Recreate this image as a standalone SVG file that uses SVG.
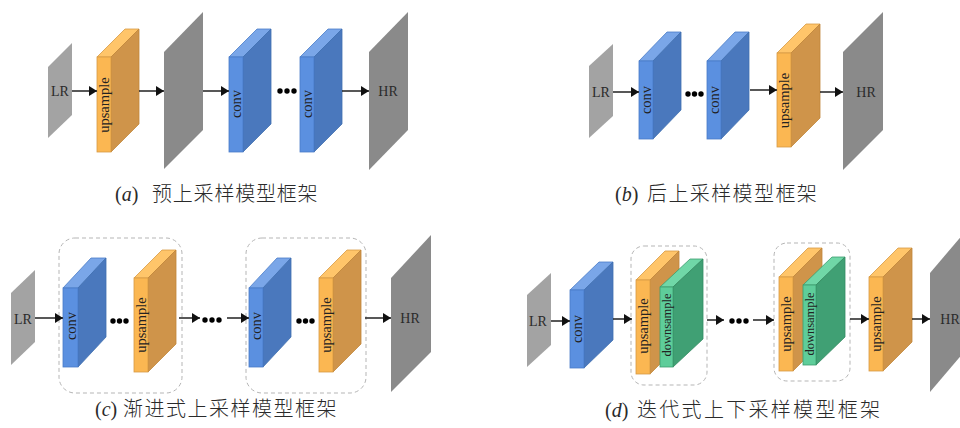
<svg xmlns="http://www.w3.org/2000/svg" width="960" height="428" viewBox="0 0 960 428">
  <defs>
    <marker id="arrow" markerUnits="userSpaceOnUse" viewBox="0 0 8 10" refX="8" refY="5" markerWidth="8" markerHeight="10" orient="auto">
      <path d="M0,0 L8,5 L0,10 z" fill="#111"/>
    </marker>
  </defs>
  <style>
    .lr { fill: #a3a3a3; }
    .hr { fill: #8a8a8a; }
    .o-front { fill: #fbb752; stroke: #d79a45; stroke-width: 0.8; }
    .o-top { fill: #ffc56a; stroke: #d79a45; stroke-width: 0.8; }
    .o-side { fill: #cf944a; stroke: #c0863a; stroke-width: 0.8; }
    .b-front { fill: #5b90e0; stroke: #4a7cc8; stroke-width: 0.8; }
    .b-top { fill: #7aa6e8; stroke: #4a7cc8; stroke-width: 0.8; }
    .b-side { fill: #4a78bd; stroke: #4070b0; stroke-width: 0.8; }
    .g-front { fill: #5ecd9a; stroke: #3c9c6e; stroke-width: 0.8; }
    .g-top { fill: #70d7a7; stroke: #3c9c6e; stroke-width: 0.8; }
    .g-side { fill: #40a074; stroke: #348c62; stroke-width: 0.8; }
    .lbl { font-family: "Liberation Serif", "Times New Roman", serif; font-size: 14.5px; fill: #222; text-anchor: middle; dominant-baseline: central; }
    .lbl-s { font-size: 12.5px; }
    .io { font-family: "Liberation Serif", "Times New Roman", serif; font-size: 14px; fill: #2a2a2a; text-anchor: middle; dominant-baseline: central; }
    .conn { stroke: #111; stroke-width: 1.4; fill: none; marker-end: url(#arrow); }
    .dot { fill: #000; }
    .group { fill: none; stroke: #b5b5b5; stroke-width: 1; stroke-dasharray: 4 3; }
    .cap-l { font-family: "Liberation Serif", "Times New Roman", serif; font-size: 20px; fill: #2a2a2a; }
    .cap-c { font-family: "Noto Sans CJK SC", "Noto Sans", sans-serif; font-size: 20px; font-weight: 300; fill: #2a2a2a; }
  </style>

  <!-- ===== (a) pre-upsampling ===== -->
  <g id="a-lr"><polygon class="lr" points="48,67 72,43 72,115 48,138"/><text class="io" x="60" y="91">LR</text></g>
  <g id="a-upsample">
    <polygon class="o-top" points="97,57 111,57 139,29 125,29"/>
    <polygon class="o-side" points="111,57 139,29 139,124 111,152"/>
    <rect class="o-front" x="97" y="57" width="14" height="95"/>
    <text class="lbl" transform="translate(104,105) rotate(-90)">upsample</text>
  </g>
  <g id="a-mid"><polygon class="hr" points="164,52 203,12 203,130 164,169"/></g>
  <g id="a-conv1">
    <polygon class="b-top" points="229,57 243,57 271,29 257,29"/>
    <polygon class="b-side" points="243,57 271,29 271,124 243,152"/>
    <rect class="b-front" x="229" y="57" width="14" height="95"/>
    <text class="lbl" transform="translate(236,104) rotate(-90)">conv</text>
  </g>
  <g id="a-conv2">
    <polygon class="b-top" points="300,57 314,57 342,29 328,29"/>
    <polygon class="b-side" points="314,57 342,29 342,124 314,152"/>
    <rect class="b-front" x="300" y="57" width="14" height="95"/>
    <text class="lbl" transform="translate(307,104) rotate(-90)">conv</text>
  </g>
  <g id="a-hr"><polygon class="hr" points="369,52 408,12 408,130 369,170"/><text class="io" x="388" y="91">HR</text></g>
  <text id="a-caption" y="201"><tspan class="cap-l" x="115">(<tspan font-style="italic">a</tspan>)</tspan><tspan class="cap-c" x="152" letter-spacing="0.8">预上采样模型框架</tspan></text>

  <!-- ===== (b) post-upsampling ===== -->
  <g id="b-lr"><polygon class="lr" points="589,66 613,44 613,116 589,138"/><text class="io" x="601" y="92">LR</text></g>
  <g id="b-conv1">
    <polygon class="b-top" points="639,61 653,61 681,32 667,32"/>
    <polygon class="b-side" points="653,61 681,32 681,110 653,139"/>
    <rect class="b-front" x="639" y="61" width="14" height="78"/>
    <text class="lbl" transform="translate(646,100) rotate(-90)">conv</text>
  </g>
  <g id="b-conv2">
    <polygon class="b-top" points="707,61 721,61 749,32 735,32"/>
    <polygon class="b-side" points="721,61 749,32 749,110 721,139"/>
    <rect class="b-front" x="707" y="61" width="14" height="78"/>
    <text class="lbl" transform="translate(714,100) rotate(-90)">conv</text>
  </g>
  <g id="b-upsample">
    <polygon class="o-top" points="777,53 791,53 820,24 806,24"/>
    <polygon class="o-side" points="791,53 820,24 820,118 791,147"/>
    <rect class="o-front" x="777" y="53" width="14" height="94"/>
    <text class="lbl" transform="translate(784,100.5) rotate(-90)">upsample</text>
  </g>
  <g id="b-hr"><polygon class="hr" points="843,52 883,12 883,130 843,170"/><text class="io" x="866" y="92">HR</text></g>
  <text id="b-caption" y="201"><tspan class="cap-l" x="615">(<tspan font-style="italic">b</tspan>)</tspan><tspan class="cap-c" x="647" letter-spacing="1.4">后上采样模型框架</tspan></text>

  <!-- ===== (c) progressive upsampling ===== -->
  <g id="c-lr"><polygon class="lr" points="11,293 35,270 35,342 11,365"/><text class="io" x="23" y="319">LR</text></g>
  <g id="c-stage1">
    <rect class="group" x="59" y="238" width="123" height="155" rx="16"/>
  </g>
  <g id="c-conv1">
    <polygon class="b-top" points="63,288 78,288 106,258 91,258"/>
    <polygon class="b-side" points="78,288 106,258 106,337 78,367"/>
    <rect class="b-front" x="63" y="288" width="15" height="79"/>
    <text class="lbl" transform="translate(70.5,326) rotate(-90)">conv</text>
  </g>
  <g id="c-upsample1">
    <polygon class="o-top" points="134,278 148,278 176,250 162,250"/>
    <polygon class="o-side" points="148,278 176,250 176,344 148,372"/>
    <rect class="o-front" x="134" y="278" width="14" height="94"/>
    <text class="lbl" transform="translate(141,325) rotate(-90)">upsample</text>
  </g>
  <g id="c-stage2">
    <rect class="group" x="246" y="238" width="120" height="155" rx="16"/>
  </g>
  <g id="c-conv2">
    <polygon class="b-top" points="249,288 263,288 291,258 277,258"/>
    <polygon class="b-side" points="263,288 291,258 291,337 263,367"/>
    <rect class="b-front" x="249" y="288" width="14" height="79"/>
    <text class="lbl" transform="translate(256,326) rotate(-90)">conv</text>
  </g>
  <g id="c-upsample2">
    <polygon class="o-top" points="319,278 333,278 361,250 347,250"/>
    <polygon class="o-side" points="333,278 361,250 361,344 333,372"/>
    <rect class="o-front" x="319" y="278" width="14" height="94"/>
    <text class="lbl" transform="translate(326,325) rotate(-90)">upsample</text>
  </g>
  <g id="c-hr"><polygon class="hr" points="391,278 431,235 431,352 391,392"/><text class="io" x="410" y="318">HR</text></g>
  <text id="c-caption" y="416"><tspan class="cap-l" x="95">(<tspan font-style="italic">c</tspan>)</tspan><tspan class="cap-c" x="123" letter-spacing="1.5">渐进式上采样模型框架</tspan></text>

  <!-- ===== (d) iterative up-and-down sampling ===== -->
  <g id="d-lr"><polygon class="lr" points="527,295 551,273 551,345 527,367"/><text class="io" x="538" y="321">LR</text></g>
  <g id="d-conv">
    <polygon class="b-top" points="570,290 584,290 613,262 599,262"/>
    <polygon class="b-side" points="584,290 613,262 613,340 584,368"/>
    <rect class="b-front" x="570" y="290" width="14" height="78"/>
    <text class="lbl" transform="translate(577,329) rotate(-90)">conv</text>
  </g>
  <g id="d-stage1">
    <rect class="group" x="631" y="246" width="76" height="139" rx="13"/>
  </g>
  <g id="d-upsample1">
    <polygon class="o-top" points="636,280 650,280 679,251 665,251"/>
    <polygon class="o-side" points="650,280 679,251 679,345 650,374"/>
    <rect class="o-front" x="636" y="280" width="14" height="94"/>
    <text class="lbl" transform="translate(643,326) rotate(-90)">upsample</text>
  </g>
  <g id="d-downsample1">
    <polygon class="g-top" points="660,287 673,287 703,259 690,259"/>
    <polygon class="g-side" points="673,287 703,259 703,339 673,367"/>
    <rect class="g-front" x="660" y="287" width="13" height="80"/>
    <text class="lbl lbl-s" transform="translate(666.5,325) rotate(-90)">downsample</text>
  </g>
  <g id="d-stage2">
    <rect class="group" x="774" y="243" width="76" height="138" rx="13"/>
  </g>
  <g id="d-upsample2">
    <polygon class="o-top" points="779,277 793,277 822,248 808,248"/>
    <polygon class="o-side" points="793,277 822,248 822,342 793,371"/>
    <rect class="o-front" x="779" y="277" width="14" height="94"/>
    <text class="lbl" transform="translate(786,324) rotate(-90)">upsample</text>
  </g>
  <g id="d-downsample2">
    <polygon class="g-top" points="803,285 816,285 845,257 832,257"/>
    <polygon class="g-side" points="816,285 845,257 845,337 816,365"/>
    <rect class="g-front" x="803" y="285" width="13" height="80"/>
    <text class="lbl lbl-s" transform="translate(809.5,324) rotate(-90)">downsample</text>
  </g>
  <g id="d-upsample3">
    <polygon class="o-top" points="869,277 883,277 912,248 898,248"/>
    <polygon class="o-side" points="883,277 912,248 912,342 883,371"/>
    <rect class="o-front" x="869" y="277" width="14" height="94"/>
    <text class="lbl" transform="translate(876,324) rotate(-90)">upsample</text>
  </g>
  <g id="d-hr"><polygon class="hr" points="930,273 970,226 970,345 930,392"/><text class="io" x="950" y="319">HR</text></g>
  <text id="d-caption" y="417"><tspan class="cap-l" x="605">(<tspan font-style="italic">d</tspan>)</tspan><tspan class="cap-c" x="637" letter-spacing="2.3">迭代式上下采样模型框架</tspan></text>

  <!-- ===== connectors and ellipses ===== -->
  <g id="connectors">
    <line class="conn" x1="72" y1="91" x2="97" y2="91"/>
    <line class="conn" x1="139" y1="91" x2="164" y2="91"/>
    <line class="conn" x1="203" y1="91" x2="229" y2="91"/>
    <line class="conn" x1="342" y1="91" x2="369" y2="91"/>

    <line class="conn" x1="613" y1="92" x2="639" y2="92"/>
    <line class="conn" x1="750" y1="90" x2="777" y2="90"/>
    <line class="conn" x1="820" y1="92" x2="843" y2="92"/>

    <line class="conn" x1="35" y1="318" x2="63" y2="318"/>
    <line class="conn" x1="179" y1="318" x2="200" y2="318"/>
    <line class="conn" x1="227" y1="318" x2="249" y2="318"/>
    <line class="conn" x1="365" y1="318" x2="391" y2="318"/>

    <line class="conn" x1="551" y1="321" x2="570" y2="321"/>
    <line class="conn" x1="613" y1="319" x2="632" y2="319"/>
    <line class="conn" x1="707" y1="320" x2="724" y2="320"/>
    <line class="conn" x1="753" y1="320" x2="774" y2="320"/>
    <line class="conn" x1="850" y1="319" x2="869" y2="319"/>
    <line class="conn" x1="912" y1="319" x2="930" y2="319"/>
  </g>
  <g id="ellipses">
    <circle class="dot" cx="280" cy="91" r="2.7"/><circle class="dot" cx="287" cy="91" r="2.7"/><circle class="dot" cx="294" cy="91" r="2.7"/>
    <circle class="dot" cx="688" cy="94" r="2.7"/><circle class="dot" cx="694.5" cy="94" r="2.7"/><circle class="dot" cx="701" cy="94" r="2.7"/>
    <circle class="dot" cx="113" cy="321" r="2.7"/><circle class="dot" cx="119.5" cy="321" r="2.7"/><circle class="dot" cx="126" cy="321" r="2.7"/>
    <circle class="dot" cx="205" cy="320" r="2.7"/><circle class="dot" cx="212" cy="320" r="2.7"/><circle class="dot" cx="219" cy="320" r="2.7"/>
    <circle class="dot" cx="299" cy="321" r="2.7"/><circle class="dot" cx="305.5" cy="321" r="2.7"/><circle class="dot" cx="312" cy="321" r="2.7"/>
    <circle class="dot" cx="732" cy="321" r="2.7"/><circle class="dot" cx="739" cy="321" r="2.7"/><circle class="dot" cx="746" cy="321" r="2.7"/>
  </g>
</svg>
